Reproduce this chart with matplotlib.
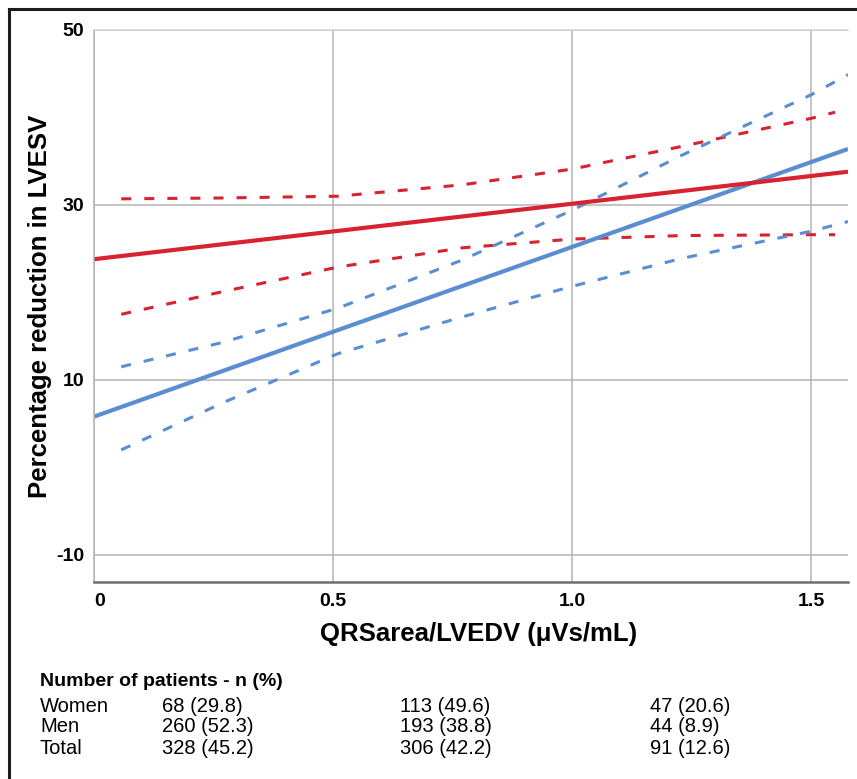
import matplotlib.pyplot as plt
from matplotlib.lines import Line2D

plt.rcParams['font.family'] = ['Liberation Sans', 'DejaVu Sans']
plt.rcParams['lines.scale_dashes'] = False
plt.rcParams['axes.unicode_minus'] = False

# regression lines
fit_x = [0.0, 1.577]
red_fit = [23.8, 33.8]
blue_fit = [5.8, 36.4]

# confidence bands (dashed)
red_ci_x = [0.057, 0.27, 0.51, 0.77, 1.0, 1.23, 1.5, 1.55]
red_ci_upper = [30.7, 30.8, 31.0, 32.3, 34.1, 36.7, 39.9, 40.6]
red_ci_lower = [17.5, 20.1, 22.9, 25.1, 26.1, 26.5, 26.6, 26.6]

blue_ci_x = [0.057, 0.27, 0.51, 0.77, 1.0, 1.23, 1.5, 1.577]
blue_ci_upper = [11.5, 14.3, 18.2, 23.7, 29.4, 35.7, 42.6, 44.9]
blue_ci_lower = [2.0, 7.4, 13.0, 17.2, 20.7, 23.9, 27.0, 28.1]

x_ticks = [0, 0.5, 1.0, 1.5]
x_tick_labels = ['0', '0.5', '1.0', '1.5']
y_ticks = [-10, 10, 30, 50]
y_tick_labels = ['-10', '10', '30', '50']

# patient counts table
table_title = 'Number of patients - n (%)'
groups = ['Women', 'Men', 'Total']
col_low = ['68 (29.8)', '260 (52.3)', '328 (45.2)']
col_mid = ['113 (49.6)', '193 (38.8)', '306 (42.2)']
col_high = ['47 (20.6)', '44 (8.9)', '91 (12.6)']

W, H = 857, 779
RED = '#d7232f'
BLUE = '#5b8dd3'

fig = plt.figure(figsize=(W / 100, H / 100), dpi=100)
fig.patch.set_facecolor('white')

# outer frame (left + top visible)
fig.add_artist(Line2D([9 / W, 9 / W], [0, 1 - 9 / H], transform=fig.transFigure,
                      color='#1c1c1c', lw=2.2))
fig.add_artist(Line2D([9 / W, 1], [1 - 9 / H, 1 - 9 / H], transform=fig.transFigure,
                      color='#1c1c1c', lw=2.2))

ax = fig.add_axes([94 / W, 1 - 582 / H, 754 / W, 552 / H])
ax.set_xlim(0, 1.577)
ax.set_ylim(-13.1, 50)

ax.grid(True, color='#b4b4b4', lw=1.1)
ax.set_axisbelow(True)
ax.spines['right'].set_visible(False)
ax.spines['top'].set_color('#d4d4d4')
ax.spines['top'].set_linewidth(1.1)
ax.spines['left'].set_color('#b4b4b4')
ax.spines['left'].set_linewidth(1.1)
ax.spines['bottom'].set_color('#6e6e6e')
ax.spines['bottom'].set_linewidth(1.8)

# dashed confidence bands
ax.plot(red_ci_x, red_ci_upper, color=RED, lw=2.2, dashes=(7.2, 9.4))
ax.plot(red_ci_x, red_ci_lower, color=RED, lw=2.2, dashes=(7.2, 9.4))
ax.plot(blue_ci_x, blue_ci_upper, color=BLUE, lw=2.2, dashes=(7.2, 9.4))
ax.plot(blue_ci_x, blue_ci_lower, color=BLUE, lw=2.2, dashes=(7.2, 9.4))

# fitted lines
ax.plot(fit_x, blue_fit, color=BLUE, lw=3.0, solid_capstyle='butt')
ax.plot(fit_x, red_fit, color=RED, lw=3.0, solid_capstyle='butt')

ax.set_xticks(x_ticks)
ax.set_xticklabels(x_tick_labels)
ax.set_yticks(y_ticks)
ax.set_yticklabels(y_tick_labels)
ax.tick_params(axis='x', length=0, labelsize=14, pad=8)
ax.tick_params(axis='y', length=0, labelsize=14, pad=7)
for lbl in ax.get_xticklabels() + ax.get_yticklabels():
    lbl.set_fontweight('bold')
ax.get_xticklabels()[0].set_ha('left')

ax.set_xlabel('QRSarea/LVEDV (μVs/mL)', fontsize=18.5, fontweight='bold')
ax.xaxis.set_label_coords((479 - 94) / 754, (582 - 634) / 552)
ax.xaxis.label.set_va('center')
ax.set_ylabel('Percentage reduction in LVESV', fontsize=18.5, fontweight='bold')
ax.yaxis.set_label_coords((40 - 94) / 754, 0.5)
ax.yaxis.label.set_va('center')

# table below the chart
def px(x, y):
    return x / W, 1 - y / H

fig.text(*px(40, 682), table_title, fontsize=14, fontweight='bold', va='center')
row_y = [706, 727, 748]
for i, g in enumerate(groups):
    fig.text(*px(40, row_y[i]), g, fontsize=14.5, va='center')
    fig.text(*px(162, row_y[i]), col_low[i], fontsize=14.5, va='center')
    fig.text(*px(400, row_y[i]), col_mid[i], fontsize=14.5, va='center')
    fig.text(*px(650, row_y[i]), col_high[i], fontsize=14.5, va='center')

fig.savefig('out.png', dpi=100, facecolor='white')
